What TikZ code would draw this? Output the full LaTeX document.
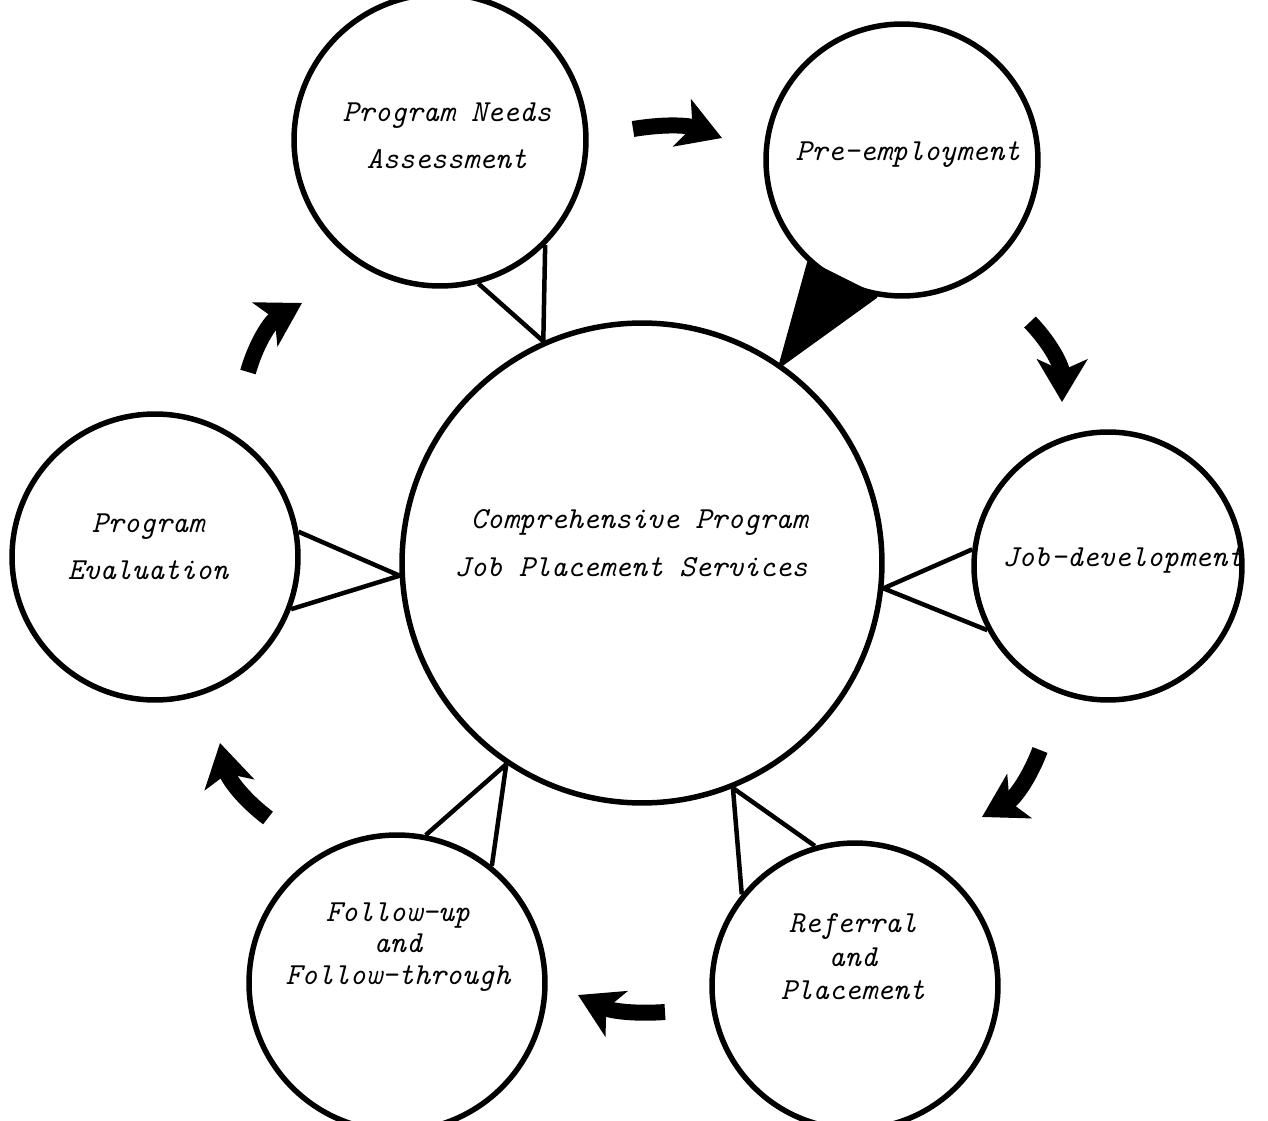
\documentclass[tikz,border=0pt]{standalone}
\usepackage{tikz}
\usetikzlibrary{arrows.meta,positioning}

\begin{document}
\begin{tikzpicture}[x=0.02cm,y=-0.02cm]
		\tikzstyle{place}=[circle, draw=black, line width=0.11cm]
		\tikzstyle{txt}=[align=center, font=\fontsize{17.4}{27}\selectfont\ttfamily\itshape]
		\tikzstyle{link}=[line width=0.09cm, line join=round]
		\tikzstyle{flow}=[line width=0.32cm, -{Stealth[length=0.85cm, width=1.0cm, inset=0.22cm]}]
		\useasboundingbox (0,0) rectangle (1268,1121);
		
		% Centre
		\node[place, minimum size=9.6cm] (ctr) at (642,563) {};
		\node[txt, align=right, anchor=east] (ctr_t) at ([shift={(172,-20)}]ctr) {Comprehensive Program\\Job Placement Services};
		
		% Outer ring
		\node[place, minimum size=5.84cm] (needs) at (440,140) {};
		\node[place, minimum size=5.44cm] (pre) at (902,160) {};
		\node[place, minimum size=5.36cm] (job) at (1108,566) {};
		\node[place, minimum size=5.72cm] (ref) at (855,986) {};
		\node[place, minimum size=5.92cm] (fol) at (397,983) {};
		\node[place, minimum size=5.72cm] (eval) at (155,557) {};
		
		% Text
		\node[txt] (needs_t) at ([shift={(7,-4)}]needs) {Program Needs\\Assessment};
		\node[txt] (pre_t) at ([shift={(6,-5)}]pre) {Pre-employment};
		\node[txt] (job_t) at ([shift={(15,-6)}]job) {Job-development};
		\node[txt, font=\fontsize{17.4}{19}\selectfont\ttfamily\itshape] (ref_t) at ([shift={(-2,-29)}]ref) {Referral\\and\\Placement};
		\node[txt, font=\fontsize{17.4}{18}\selectfont\ttfamily\itshape] (fol_t) at ([shift={(1,-36)}]fol) {Follow-up\\and\\Follow-through};
		\node[txt] (eval_t) at ([shift={(-7,-10)}]eval) {Program\\Evaluation};
		
		% Outer -> Centre
		\foreach \n/\a/\b/\c in {needs/114.3/285/315, job/354/173/208.6, ref/292.7/141.8/106.6, fol/236.9/79.8/51.7, eval/183.8/10/339.6}
		\draw[link] (\n.\b) -- (ctr.\a) -- (\n.\c);
		\fill[draw=black, link] (pre.228) -- (ctr.55.5) -- (pre.259) -- cycle;
		
		% Cycle arrows
		\foreach \sx/\sy/\ex/\ey/\bd [count=\i] in {633/129/722/138/15, 1030/322/1062/402/22, 1040/750/982/817/20, 665/1012/578/995/15, 268/818/220/743/20, 248/372/302/303/22}
		{
		\coordinate (tail_\i) at (\sx,\sy);
		\coordinate (tip_\i) at (\ex,\ey);
		\draw[flow] (tail_\i) to[bend left=\bd] (tip_\i);
		}
\end{tikzpicture}
\end{document}
